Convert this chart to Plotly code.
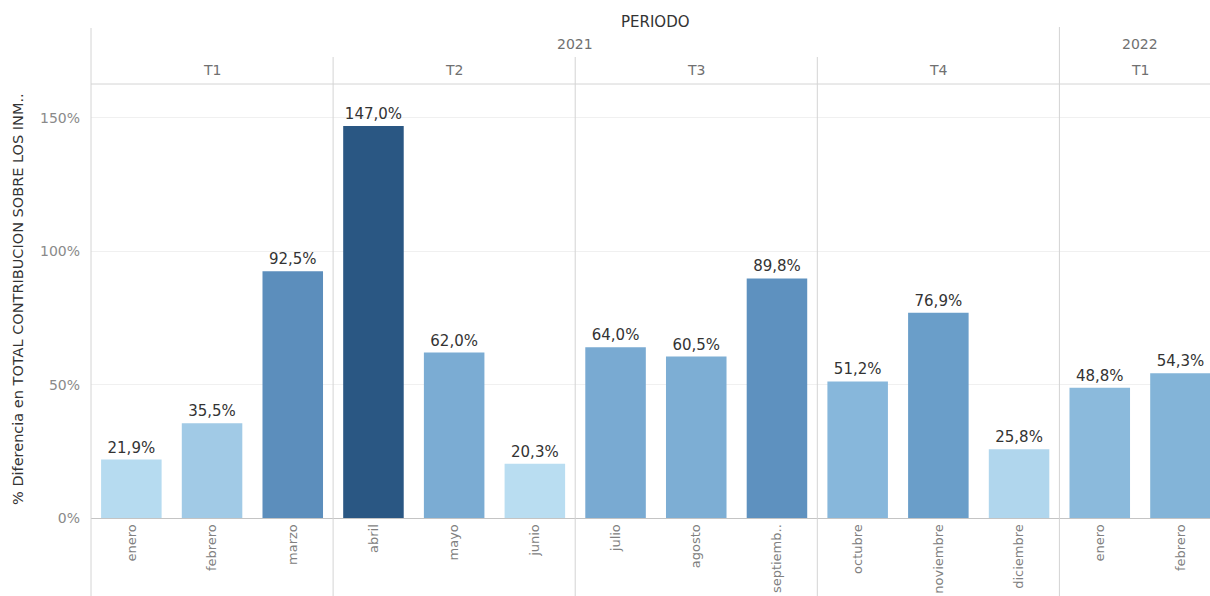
import plotly.graph_objects as go

# ---- data ----
months = ["enero", "febrero", "marzo", "abril", "mayo", "junio", "julio", "agosto",
          "septiemb..", "octubre", "noviembre", "diciembre", "enero", "febrero"]
years = ["2021"] * 12 + ["2022"] * 2
quarters = ["T1", "T1", "T1", "T2", "T2", "T2", "T3", "T3", "T3", "T4", "T4", "T4", "T1", "T1"]
values = [21.9, 35.5, 92.5, 147.0, 62.0, 20.3, 64.0, 60.5, 89.8, 51.2, 76.9, 25.8, 48.8, 54.3]
y_ticks = [0, 50, 100, 150]
y_tick_labels = ["0%", "50%", "100%", "150%"]
y_title = "% Diferencia en TOTAL CONTRIBUCION SOBRE LOS INM.."
header_title = "PERIODO"

# ---- layout constants ----
W, H = 1210, 596
ML, MR, MT, MB = 91, 0, 84, 78
X_RANGE = [-0.5, 13.366]
Y_RANGE = [0, 162.7]
plot_h = H - MT - MB
FONT = "DejaVu Sans"


def px_y(py):
    """pixel y (from top) -> paper y"""
    return (H - MB - py) / plot_h


def paper_x(v):
    return (v - X_RANGE[0]) / (X_RANGE[1] - X_RANGE[0])


xs = list(range(len(values)))

fig = go.Figure()
fig.add_trace(go.Bar(
    x=xs, y=values, width=0.75,
    marker=dict(
        color=values,
        colorscale=[[0, "#b9ddf1"], [0.25, "#86b6da"], [0.5, "#6397c4"],
                    [0.75, "#4a78a8"], [1, "#2a5783"]],
        cmin=min(values), cmax=max(values),
        line=dict(width=0),
    ),
    texttemplate="%{y:.1f}%",
    textposition="outside",
    textfont=dict(family=FONT, size=15, color="#333333"),
    cliponaxis=False,
    hoverinfo="skip",
))


def groups(keys):
    out = []
    start = 0
    for i in range(1, len(keys) + 1):
        if i == len(keys) or keys[i] != keys[start]:
            out.append((keys[start], start, i - 1))
            start = i
    return out


quarter_keys = [y + q for y, q in zip(years, quarters)]

shapes = []
annotations = []
line_col = "#d4d4d4"


def label(x, y, text, color="#707070", size=14, angle=0):
    annotations.append(dict(xref="paper", yref="paper", x=x, y=y, text=text,
                            showarrow=False, xanchor="center", yanchor="middle",
                            textangle=angle,
                            font=dict(family=FONT, size=size, color=color)))


# left border line
shapes.append(dict(type="line", xref="paper", yref="paper", x0=0, x1=0,
                   y0=px_y(H), y1=px_y(28), line=dict(color=line_col, width=1)))
for key, s, e in groups(quarter_keys):
    label(paper_x((s + e) / 2), px_y(70), quarters[s])
    if s > 0:
        top = 27 if years[s] != years[s - 1] else 57
        shapes.append(dict(type="line", xref="paper", yref="paper",
                           x0=paper_x(s - 0.5), x1=paper_x(s - 0.5),
                           y0=px_y(H), y1=px_y(top), line=dict(color=line_col, width=1)))
for key, s, e in groups(years):
    label(paper_x((s + e) / 2), px_y(44), years[s])

label(paper_x((len(values) - 1) / 2), px_y(22), header_title, color="#333333", size=15)
shapes.append(dict(type="line", xref="paper", yref="paper", x0=0, x1=1, y0=1, y1=1,
                   line=dict(color=line_col, width=1)))
label((18 - ML) / (W - ML - MR), px_y(299), y_title, color="#333333", size=14.5, angle=-90)

fig.update_layout(
    width=W, height=H,
    margin=dict(l=ML, r=MR, t=MT, b=MB),
    paper_bgcolor="white", plot_bgcolor="white",
    separators=",.",
    showlegend=False,
    shapes=shapes,
    annotations=annotations,
    xaxis=dict(
        range=X_RANGE, tickvals=xs, ticktext=months, tickangle=-90,
        showgrid=False, zeroline=False, showline=True, linecolor="#c4c4c4",
        ticks="", tickfont=dict(family=FONT, size=13, color="#808080"),
        fixedrange=True,
    ),
    yaxis=dict(
        range=Y_RANGE, tickvals=y_ticks, ticktext=y_tick_labels,
        showgrid=True, gridcolor="#f0f0f0", zeroline=False, showline=False,
        ticks="", ticklabelstandoff=10,
        tickfont=dict(family=FONT, size=14, color="#8a8a8a"),
        fixedrange=True,
    ),
)

fig.write_html("out.html", config={"displayModeBar": False},
               post_script="document.body.style.margin='0';document.body.style.overflow='hidden';")
